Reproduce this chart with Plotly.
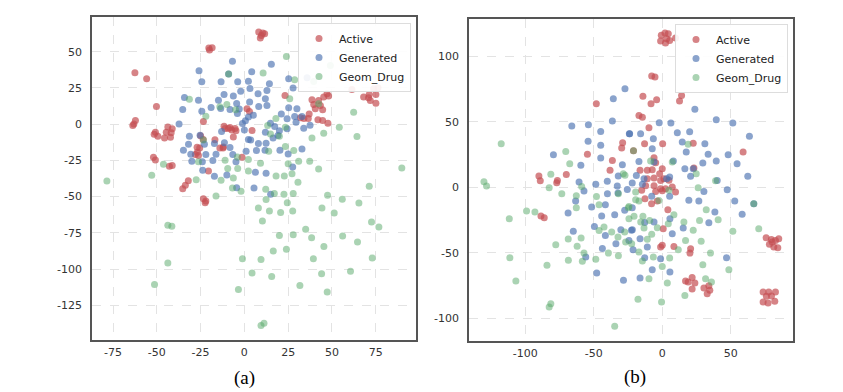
import plotly.graph_objects as go

# ---------------- Panel (a) data ----------------
a_active_x = [8.2, 9.7, 11.6, 9.1, 10.5, -20.3, -18.4, -19.9, -62.5, -55.8, -50.2, -62.2, -63.7, -63.1,
              -43.7, -41.2, -44.6, -41.8, -45.6, -42.2, -50.8, -49.4, -51.5, -51.9, -50.8, -42.8, -41.2,
              -23.4, -35.2, -33.7, -32.0, -23.4, -22.4, -22.0,
              -25.0, -23.5, -27.0, -25.5, -26.8, -26.2, -28.0, -20.5, -16.8, -14.0, -12.0, -12.2,
              -11.6, -11.0, -9.1, -8.2, -7.2, -5.3, -4.8, -6.3, 1.5, 2.9, 4.4, -1.3, 23.2,
              38.6, 39.6, 42.4, 43.4, 40.5, 44.7, 47.2, 48.1, 45.3, 32.0, 34.0, 36.5, 37.0,
              42.0, 44.7, 47.7, 61.4, 68.1, 70.9, 71.9, 73.8, 76.3, 75.1, 71.3, 75.1]
a_active_y = [63.6, 61.3, 62.5, 59.5, 63.0, 52.6, 52.8, 51.2, 35.5, 31.4, 12.2, 2.5, -0.9, 0.2,
              -2.0, -3.2, -5.5, -6.0, -9.5, -9.0, -5.5, -8.3, -7.0, -22.8, -24.7, -29.0, -28.6,
              1.8, -44.5, -42.2, -39.0, -51.4, -54.2, -53.0,
              -8.0, -10.5, -16.0, -16.5, -19.4, -21.7, -21.0, -32.3, -10.8, -16.4, -15.8, -16.5,
              -1.5, -3.0, -3.0, -2.3, -4.1, -3.0, -4.6, -8.8, 10.6, 8.8, -4.4, -22.8, 19.8,
              16.8, 13.6, 16.4, 12.9, 10.6, 9.9, 21.0, 19.4, 18.7, 4.5, 4.0, 4.0, 7.0,
              3.0, 2.5, 0.7, 24.0, 18.7, 18.2, 16.4, 24.4, 25.1, 20.5, 20.5, 14.5]

a_gen_x = [-6.8, -25.9, -24.3, -13.3, -3.8, 2.3, 4.2, 15.4, 14.3, 25.3, 35.8, 27.8, -9.0,
           -34.2, -35.2, -37.3, -26.2, -19.0, -14.8, -11.6, -6.3, -2.1, 3.2, 7.8, 12.9, 12.0, 8.2, 12.9,
           -24.3, -13.5, -8.2, -4.4, -2.9, -4.0, 3.0, 2.3, 5.1, 0.6, -1.1,
           21.1, 25.3, 30.0, 32.9, 28.7, 24.4, 29.5, 33.9, 17.3, 14.9, 12.0, 16.4, 19.2, 24.4, 37.5, 20.0,
           -25.3, -31.4, -31.9, -34.8, -30.6, -30.0, -24.0, -22.0, -22.8, -17.1, -16.2, -11.4, -8.2, -6.6,
           -4.8, 1.0, 3.6, 8.0, 11.8, 6.9, 12.4,
           32.9, 25.0, 27.6, 20.3,
           6.3, 12.4, -23.8, -17.1, -4.4, 5.5, 15.0, 0.0, 2.3, -13.0, -18.0, -10.0]
a_gen_y = [43.5, 36.9, 29.3, 29.3, 29.3, 29.7, 36.2, 41.3, 27.9, 31.3, 32.0, 24.9, 34.6,
           18.4, 10.1, 0.2, 16.6, 11.5, 16.6, 20.5, 19.4, 22.8, 24.7, 21.0, 23.3, 17.5, 12.2, 12.9,
           9.0, 10.8, 10.1, 14.3, 10.4, 7.4, 15.4, 5.0, 6.2, 2.3, 0.5,
           7.1, 11.3, 10.6, 5.3, 5.3, 3.7, 1.4, -2.8, -1.6, 0.7, -5.5, -9.5, -7.8, -3.2, -0.7, -4.6,
           -7.6, -8.3, -13.8, -18.0, -20.7, -25.6, -26.0, -21.0, -13.8, -13.4, -20.7, -12.9, -16.1, -21.0,
           -26.0, -18.7, -11.0, -13.4, -18.0, -18.2, -13.1,
           -17.1, -20.5, -29.5, -18.0,
           -33.2, -33.9, -31.8, -36.0, -43.8, -44.0, -48.4, -4.1, -10.6, -5.0, -25.0, -35.0]

a_geom_x = [-9.0, 10.7, 24.0, 28.7, 39.6, 49.1,
            -31.4, -22.0, -10.0, -14.0, -5.0, 25.9, 42.4, 62.4, 54.2, 64.3, 45.3, 38.6, 23.4, 13.3,
            14.9, 23.4, 28.2, 13.9, 20.0, 18.0,
            9.2, 25.0, 31.0, 37.3, 42.4, 89.9, 71.3, 18.1, 22.8, 27.2, 30.6,
            2.3, 2.3, -3.8, -6.3, -9.5, -13.3, -11.0, -4.0, -23.4, -26.2, -27.5, -46.2, -52.9, -78.5,
            -16.2, -6.8, -1.9, 12.2, 12.4, 17.1, 47.5, 55.9,
            -43.7, -41.4, -43.7, -51.3,
            8.0, 14.3, 20.7, 22.6, 24.5, 27.9, 27.6, 10.3, 35.0, 20.0, 27.9, 38.4, 16.5, 24.0, 45.4,
            -1.1, 9.5, 39.4, 4.4, 15.6, -3.4, 31.7, 44.1, 47.3, 60.6,
            65.4, 51.3, 44.3, 56.1, 64.6, 72.6, 76.8, 73.0,
            9.5, 11.2]
a_geom_y = [34.6, 35.3, 46.8, 30.7, 29.5, 40.6,
            17.3, 5.5, 13.6, 12.0, 10.0, 17.5, 14.1, 8.3, -2.1, -8.5, -6.2, -9.5, -2.1, -0.9,
            -6.7, -15.4, -18.2, -18.7, -8.3, 3.9,
            -27.0, -27.4, -25.6, -25.6, -30.9, -30.2, -42.9, -35.7, -35.7, -34.3, -40.1,
            -24.4, -32.3, -30.6, -37.1, -30.6, -38.7, -24.9, -22.6, -11.0, -26.0, -38.3, -27.7, -35.3, -39.2,
            -49.5, -44.0, -46.3, -45.0, -52.0, -47.9, -49.1, -51.9,
            -69.8, -70.5, -95.9, -110.6,
            -57.9, -59.9, -61.0, -48.4, -54.2, -47.9, -59.9, -66.8, -72.6, -76.8, -76.3, -78.4, -87.6, -86.4, -84.4,
            -92.9, -93.4, -92.9, -102.8, -105.1, -114.1, -111.3, -103.3, -115.9, -101.6,
            -54.4, -61.3, -57.9, -77.2, -81.4, -67.6, -71.0, -92.4,
            -139.0, -137.4]

# ---------------- Panel (b) data ----------------
b_active_x = [-0.7, 2.0, 4.4, -1.2, 2.4, 5.4, 3.2, 9.7,
              -7.7, -5.3, -14.1, -8.2, -4.1, 14.1, 12.6, -48.1,
              -17.0, -14.5, -9.7, -28.9, -29.6, -12.9, 0.3, 22.6, 59.0,
              -54.6, -36.4, -38.1, -21.0,
              -90.0, -89.0, -77.0, -76.5, -70.0,
              -6.0, -4.8, 0.0, 23.1,
              -16.2, -10.9, -7.3, -1.9, -10.9, -6.0, -1.2, 1.2,
              -12.1, -6.0, -4.8, -1.2, 0.0, 2.4, 4.9, 7.3, 9.7, -15.0, -12.6, -7.8, -3.6,
              -88.5, -86.1,
              4.1, 0.7, -1.2, 0.0, 8.5, 20.7, 20.2,
              18.9, 21.8, 23.8, 21.8, 17.0, 30.4, 34.0, 32.8, 34.7,
              75.8, 79.6, 82.6, 85.0, 78.2, 81.4, 84.3, 80.2,
              73.6, 77.7, 82.6, 76.0, 79.7, 73.6, 77.2, 82.1]
b_active_y = [116.3, 118.0, 117.5, 111.9, 110.4, 112.4, 113.7, 114.2,
              85.2, 84.4, 69.6, 64.0, 67.0, 70.3, 66.0, 64.0,
              55.0, 53.7, 45.6, 34.1, 30.0, 33.4, 33.4, 33.8, 27.0,
              25.3, 20.6, 13.0, 28.0,
              8.6, 5.0, 3.5, 5.3, 9.9,
              22.6, 18.8, 14.2, 14.7,
              13.0, 13.0, 13.5, 10.4, 6.6, 7.1, 5.3, 6.6,
              1.2, 1.2, -3.2, -1.0, -2.7, -1.0, 5.4, 0.2, -3.6, -2.3, -8.7, -12.5, -10.5,
              -22.0, -23.2,
              -17.1, -31.7, -45.7, -44.4, -45.3, -47.0, -50.3,
              -72.5, -69.1, -73.3, -77.8, -71.7, -77.0, -75.3, -81.4, -78.8,
              -38.5, -40.0, -40.6, -39.3, -43.6, -45.7, -46.2, -41.9,
              -80.1, -80.1, -80.1, -83.4, -83.2, -87.8, -88.5, -87.2]

b_gen_x = [-27.2, -35.7, -36.4, -66.0, -53.9, -44.9, -24.0, -54.1, -44.9, -79.4, -59.4, -44.9, -29.1,
           -60.7, -40.1, -32.1,
           23.8, 39.4, 51.5, -2.2, 6.3, -23.8, -15.8, -6.5, 11.0, 20.0, 14.6, 31.1, 17.5, 33.5, 48.1,
           63.6, -7.3, -17.0, -6.0, 8.1, 29.6, 39.4, 16.5, 22.6, 62.4, 54.6, -18.9, -13.3, 3.2, 20.7, 40.1,
           -57.1, -63.2, -48.5, -40.0, -32.8, -32.3, -25.5, -21.9, -41.5, -51.5, -44.2, -34.7, -27.4,
           -21.9, -68.7, -64.9, -49.5, -41.5, -33.8, -30.2, -22.5, -43.7, -55.8, -47.8, -28.3,
           19.4, 26.7, 30.4, 47.4, 52.9, 58.3, 38.4, 34.0, 46.9, 15.3, 7.3, 5.6, 5.4, -7.7, -6.0,
           -12.8, -21.8, -24.3, -16.2, -10.9, -21.3, -12.8, -1.2, -7.3, 5.6, -16.2, 5.4, -14.5, 66.8]
b_gen_y = [75.5, 67.8, 50.8, 46.9, 47.9, 42.8, 41.0, 35.2, 32.1, 25.0, 16.8, 22.4, 17.3,
           4.1, 4.6, 8.6,
           59.7, 51.8, 49.2, 49.5, 49.2, 41.0, 41.0, 37.2, 41.7, 42.6, 34.7, 33.4, 27.0, 25.4, 24.9,
           39.0, 29.6, 19.8, 19.4, 20.1, 18.6, 20.1, 14.2, 14.2, 8.4, 18.1, 9.1, 6.6, 6.6, 8.4, 5.3,
           -2.8, -10.5, 2.3, -4.9, 1.0, -4.4, -1.6, 3.3, -13.3, -15.1, -21.9, -20.9, -17.6,
           -15.6, -19.7, -33.7, -29.9, -36.8, -43.1, -32.4, -32.9, -46.9, -53.3, -65.6, -71.2,
           -9.9, -10.4, -3.2, -1.8, -10.5, -20.7, -18.9, -27.1, -53.8, -31.1, -35.5, -24.0, -6.9, -6.9, -26.5,
           -27.0, -32.4, -40.6, -39.3, -45.7, -47.7, -53.8, -54.6, -63.0, -64.8, -69.4, 7.9, 2.3, -12.5]

b_geom_x = [-117.5, -70.4, -67.5, -81.3, -28.4, -27.2, -130.1, -128.2, -21.0,
            18.9, -8.5, 7.3, 24.8, 38.9,
            -82.5, -73.3, -58.8, -62.7, -62.7, -48.0, -32.0, -46.1, -24.7, -99.0, -92.9, -111.6,
            -68.6, -59.2, -62.1, -77.7, -46.1, -42.5, -36.9, -32.3, -27.4, -26.7, -39.3, -32.0,
            -57.1, -58.3, -68.5, -48.5, -111.2, -84.1, -106.8, -81.3, -82.5, -34.7,
            26.2, 4.9, -19.4, -17.0, -2.4, -24.3, -20.6, -14.1, -15.7, -9.2, -3.6, 4.4, 8.5, 15.8,
            27.2, 32.1, 40.8, 22.6, 17.0, 28.4, 11.7, 35.2, 51.5, 70.4, 48.6, 29.6, 31.6, 35.9,
            16.5, -0.5, -17.7, 3.7, 5.4, -9.7, 0.0, -14.5, -6.5, -17.0, -10.9, -22.3, -19.4, -24.3,
            66.8, -13.3, -7.7]
b_geom_y = [33.4, 27.5, 18.1, 10.0, 10.4, 9.2, 4.3, 1.0, 28.0,
            32.9, 20.1, 19.4, 10.4, 5.1,
            -0.3, -4.9, 0.7, -6.4, -15.6, -7.0, -5.0, -13.3, -15.6, -18.1, -18.9, -24.0,
            -39.6, -38.8, -45.0, -43.9, -33.0, -30.4, -34.2, -38.0, -34.2, -41.9, -50.3, -52.3,
            -50.3, -56.6, -55.9, -55.1, -53.8, -59.7, -71.7, -89.0, -91.6, -106.4,
            -0.3, -2.3, -3.6, -10.5, -10.0, -14.6, -22.2, -22.2, -26.5, -25.3, -30.9, -27.8, -21.0, -26.5,
            -25.3, -17.1, -24.8, -32.9, -40.6, -41.3, -47.7, -50.3, -33.7, -31.7, -63.0, -59.2, -69.9, -72.5,
            -82.7, -87.8, -85.7, -73.2, -54.1, -69.9, -60.5, -56.4, -53.3, -49.5, -39.8, -43.1, -9.5, -24.0,
            -12.5, -31.2, -36.0]

series_names = ["Active", "Generated", "Geom_Drug"]
panel_labels = ["(a)", "(b)"]

# ticks
a_xticks = [-75, -50, -25, 0, 25, 50, 75]
a_yticks = [50, 25, 0, -25, -50, -75, -100, -125]
b_xticks = [-100, -50, 0, 50]
b_yticks = [100, 50, 0, -50, -100]

colors = ["#C44E52", "#4C72B0", "#55A868"]
opac = [0.7, 0.65, 0.5]

fig = go.Figure()
panels = [
    ("x", "y", "legend", [(a_active_x, a_active_y), (a_gen_x, a_gen_y), (a_geom_x, a_geom_y)]),
    ("x2", "y2", "legend2", [(b_active_x, b_active_y), (b_gen_x, b_gen_y), (b_geom_x, b_geom_y)]),
]
for xa, ya, lg, data in panels:
    for i, (xs, ys) in enumerate(data):
        fig.add_trace(go.Scatter(
            x=xs, y=ys, mode="markers", name=series_names[i],
            xaxis=xa, yaxis=ya, legend=lg,
            marker=dict(size=7, color=colors[i], opacity=opac[i], line=dict(width=0)),
        ))

# page body has an 8px margin: figure is drawn at (8, 8) in the window
OFF = 8
W, H = 843 - 2 * OFF, 392 - OFF
tickfont = dict(family="DejaVu Sans", size=11, color="#333333")


def px(v):
    return (v - OFF) / W


def py(v):
    return 1 - (v - OFF) / H


def lab(v):
    return [str(t) for t in v]


def axis(domain, rng, ticks, anchor, standoff):
    return dict(domain=domain, range=rng, tickvals=ticks, ticktext=lab(ticks),
                showgrid=True, gridcolor="#e3e3e3", griddash="dash", gridwidth=1,
                zeroline=False, showline=True, linecolor="#555555", linewidth=1.5,
                mirror=True, ticks="", ticklen=0, tickfont=tickfont, anchor=anchor,
                automargin=False, ticklabelstandoff=standoff)


legend_style = dict(xanchor="right", yanchor="top",
                    bgcolor="rgba(255,255,255,0.9)", bordercolor="#dddddd", borderwidth=1,
                    font=dict(family="DejaVu Sans", size=11, color="#222222"))

fig.update_layout(
    width=W, height=H, margin=dict(l=0, r=0, t=0, b=0, autoexpand=False),
    paper_bgcolor="white", plot_bgcolor="white",
    xaxis=axis([px(92), px(416)], [-87, 98], a_xticks, "y", 1),
    yaxis=axis([py(340), py(17)], [-149, 74], a_yticks, "x", 6),
    xaxis2=axis([px(469), px(793)], [-141, 95.4], b_xticks, "y2", 1),
    yaxis2=axis([py(341), py(19)], [-117.6, 128.8], b_yticks, "x2", 6),
    legend=dict(x=px(411), y=py(23), **legend_style),
    legend2=dict(x=px(788), y=py(24), **legend_style),
    annotations=[
        dict(text=panel_labels[0], x=px(244), y=py(378), xref="paper", yref="paper",
             xanchor="center", yanchor="middle", showarrow=False,
             font=dict(family="Liberation Serif", size=19, color="black")),
        dict(text=panel_labels[1], x=px(635), y=py(377), xref="paper", yref="paper",
             xanchor="center", yanchor="middle", showarrow=False,
             font=dict(family="Liberation Serif", size=19, color="black")),
    ],
)

fig.write_html("out.html")
